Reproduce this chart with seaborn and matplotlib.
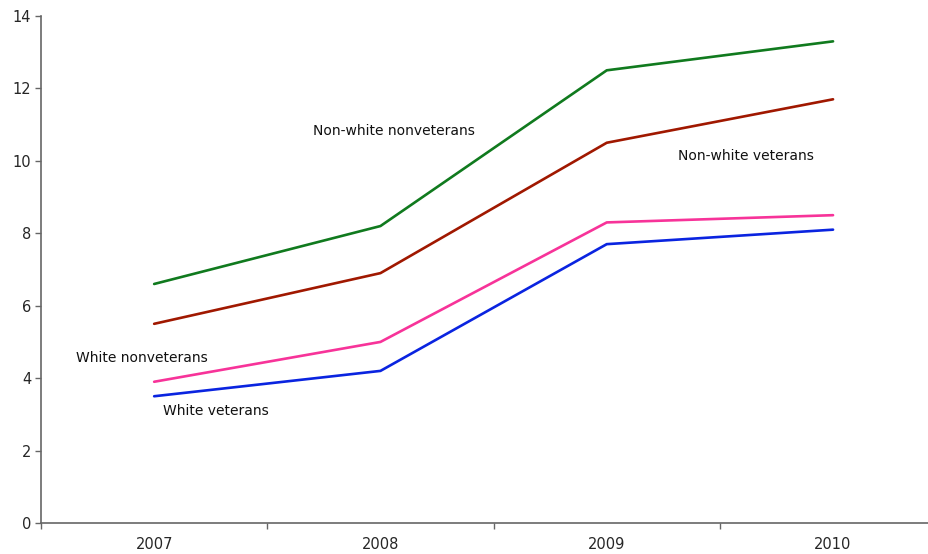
import numpy as np
import pandas as pd
import seaborn as sns
import matplotlib.pyplot as plt

years = ["2007", "2008", "2009", "2010"]
nonwhite_nonvet = [6.6, 8.2, 12.5, 13.3]
nonwhite_vet = [5.5, 6.9, 10.5, 11.7]
white_nonvet = [3.9, 5.0, 8.3, 8.5]
white_vet = [3.5, 4.2, 7.7, 8.1]

groups = ["Non-white nonveterans", "Non-white veterans", "White nonveterans", "White veterans"]
colors = ["#107a1e", "#a01800", "#f73399", "#0a24e0"]

df = pd.DataFrame({
    "pos": list(range(4)) * 4,
    "value": nonwhite_nonvet + nonwhite_vet + white_nonvet + white_vet,
    "group": [g for g in groups for _ in years],
})

sns.set_style("white")
plt.rcParams['font.family'] = ['DejaVu Sans']

fig = plt.figure(figsize=(9.29, 5.54), dpi=100)
ax = fig.add_axes([41 / 929, 31 / 554, 1 - 41 / 929, 507 / 554])

sns.lineplot(data=df, x="pos", y="value", hue="group", palette=dict(zip(groups, colors)),
             linewidth=1.9, legend=False, ax=ax)

# labels placed next to lines instead of a legend
ax.text(1.06, 10.83, "Non-white nonveterans", ha="center", va="center", fontsize=10, color="#111111")
ax.text(2.615, 10.14, "Non-white veterans", ha="center", va="center", fontsize=10, color="#111111")
ax.text(-0.053, 4.56, "White nonveterans", ha="center", va="center", fontsize=10, color="#111111")
ax.text(0.274, 3.09, "White veterans", ha="center", va="center", fontsize=10, color="#111111")

ax.set_yticks(np.arange(0, 15, 2))
ax.set_xticks([-0.5, 0.5, 1.5, 2.5, 3.5])
ax.set_xticklabels([])
ax.set_xticks(range(4), minor=True)
ax.set_xticklabels(years, minor=True)
ax.set_ylim(0, 14)
ax.set_xlim(-0.5, -0.5 + 888 / 226.3)
ax.tick_params(axis="x", which="minor", bottom=False, length=0, pad=10, labelsize=10.5)
ax.tick_params(axis="x", which="major", bottom=True, direction="out", length=4, width=1, color="#666666")
ax.tick_params(axis="y", left=True, direction="out", length=4, width=1, color="#666666",
               labelsize=10.5, pad=3)
ax.set_xlabel("")
ax.set_ylabel("")

for s in ["top", "right"]:
    ax.spines[s].set_visible(False)
for s in ["left", "bottom"]:
    ax.spines[s].set_color("#666666")
    ax.spines[s].set_linewidth(1.2)

plt.savefig("out.png", dpi=100)
